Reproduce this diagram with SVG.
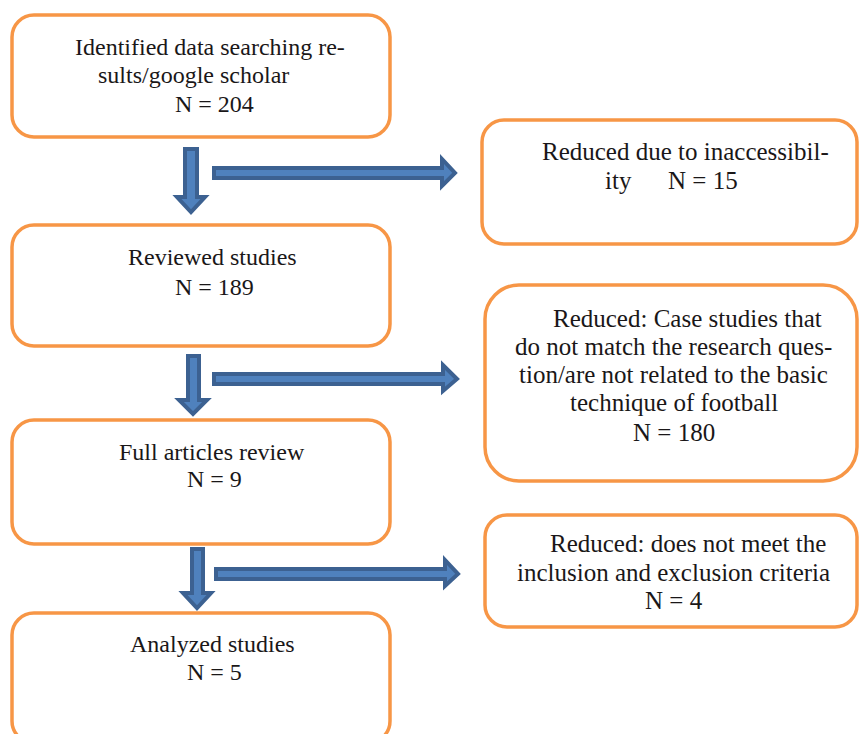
<svg xmlns="http://www.w3.org/2000/svg" width="859" height="734" viewBox="0 0 859 734">
<style>
.box{fill:#fff;stroke:#F79646;stroke-width:3.5}
.arr{fill:#4F81BD;stroke:#3C6191;stroke-width:4;stroke-linejoin:miter}
text{font-family:"Liberation Serif","Times New Roman",serif;font-size:24px;fill:#1A1718}
.r text{font-size:25px}
</style>
<rect width="859" height="734" fill="#fff"/>
<g id="connectors">
<polygon class="arr" points="185,149 197,149 197,197 205,197 191,212 177,197 185,197"/>
<polygon class="arr" points="214,168 442,168 442,159 455,173 442,186 442,178 214,178"/>
<polygon class="arr" points="188,356 199,356 199,400 207,400 193,414 179,400 188,400"/>
<polygon class="arr" points="214,374 443,374 443,365 457,379 443,391 443,384 214,384"/>
<polygon class="arr" points="192,549 203,549 203,593 211,593 197,608 183,593 192,593"/>
<polygon class="arr" points="216,569 445,569 445,560 458,574 445,586 445,579 216,579"/>
</g>
<g id="identified">
<rect class="box" x="12" y="15" width="378" height="122" rx="22"/>
<text x="75" y="55">Identified data searching re-</text>
<text x="98" y="83">sults/google scholar</text>
<text x="175" y="112">N = 204</text>
</g>
<g id="reviewed">
<rect class="box" x="12" y="225" width="378" height="121" rx="22"/>
<text x="128" y="265">Reviewed studies</text>
<text x="175" y="295">N = 189</text>
</g>
<g id="full">
<rect class="box" x="12" y="420" width="378" height="124" rx="22"/>
<text x="119" y="460">Full articles review</text>
<text x="187" y="487">N = 9</text>
</g>
<g id="analyzed">
<rect class="box" x="12" y="613" width="378" height="130" rx="22"/>
<text x="130" y="652">Analyzed studies</text>
<text x="187" y="680">N = 5</text>
</g>
<g id="reduced1" class="r">
<rect class="box" x="482" y="120" width="375" height="124" rx="22"/>
<text x="542" y="160">Reduced due to inaccessibil-</text>
<text x="605" y="189">ity</text>
<text x="668" y="189">N = 15</text>
</g>
<g id="reduced2" class="r">
<rect class="box" x="485" y="285" width="372" height="196" rx="34"/>
<text x="553" y="327">Reduced: Case studies that</text>
<text x="515" y="355">do not match the research ques-</text>
<text x="519" y="383">tion/are not related to the basic</text>
<text x="570" y="411">technique of football</text>
<text x="633" y="441">N = 180</text>
</g>
<g id="reduced3" class="r">
<rect class="box" x="485" y="515" width="372" height="112" rx="22"/>
<text x="550" y="552">Reduced: does not meet the</text>
<text x="517" y="581">inclusion and exclusion criteria</text>
<text x="645" y="609">N = 4</text>
</g>
</svg>
